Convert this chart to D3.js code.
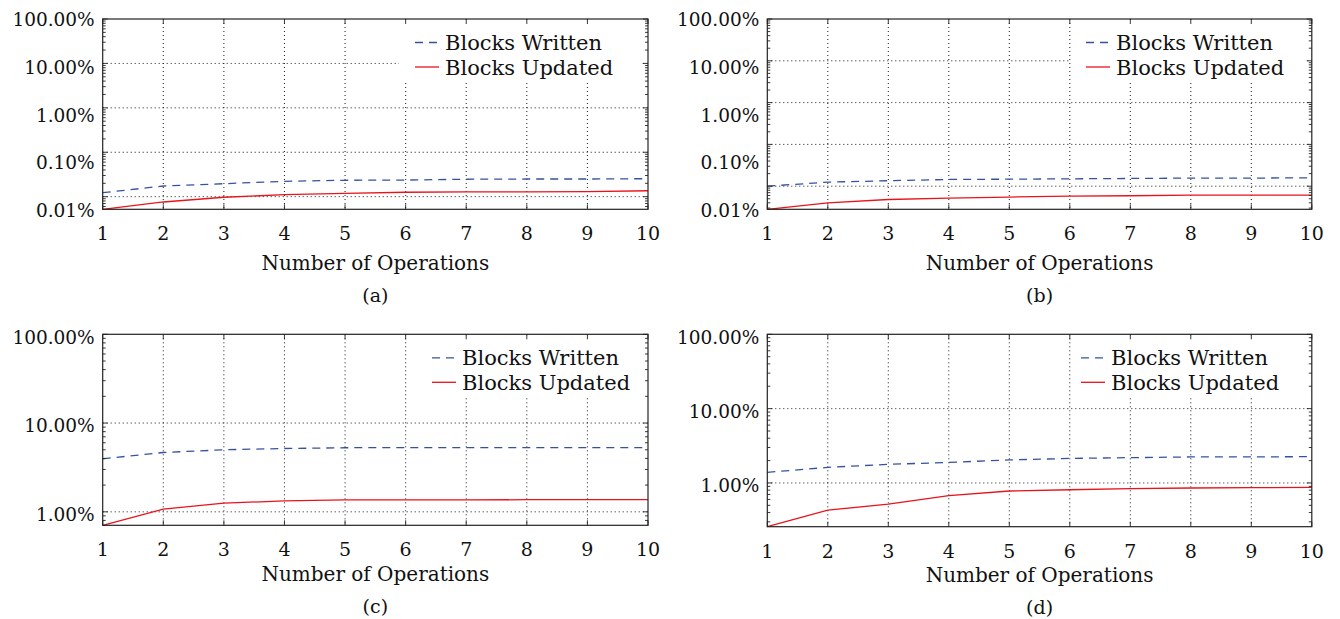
<!DOCTYPE html>
<html>
<head>
<meta charset="utf-8">
<script src="https://cdn.jsdelivr.net/npm/d3@7"></script>
<style>
  body { margin: 0; background: #fff; }
  svg text { font-family: "DejaVu Serif", serif; fill: #111; }
</style>
</head>
<body>
<svg id="chart" width="1340" height="619"></svg>
<script>
// values in percent
const ops = [1, 2, 3, 4, 5, 6, 7, 8, 9, 10];

const writtenA = [0.0123, 0.0174, 0.0196, 0.0222, 0.0234, 0.0237, 0.0247, 0.0250, 0.0250, 0.0254];
const updatedA = [0.0052, 0.0076, 0.0097, 0.0111, 0.0119, 0.0126, 0.0128, 0.0128, 0.0130, 0.0136];

const writtenB = [0.0100, 0.0125, 0.0135, 0.0145, 0.0147, 0.0150, 0.0153, 0.0156, 0.0156, 0.0159];
const updatedB = [0.0028, 0.0040, 0.0048, 0.0052, 0.0055, 0.0058, 0.0059, 0.0061, 0.0061, 0.0061];

const writtenC = [3.96, 4.66, 5.00, 5.17, 5.27, 5.30, 5.30, 5.30, 5.30, 5.30];
const updatedC = [0.705, 1.07, 1.25, 1.33, 1.36, 1.36, 1.36, 1.37, 1.37, 1.37];

const writtenD = [1.39, 1.62, 1.78, 1.89, 2.04, 2.14, 2.19, 2.24, 2.24, 2.26];
const updatedD = [0.258, 0.43, 0.52, 0.675, 0.78, 0.81, 0.84, 0.856, 0.865, 0.873];

const ticksAB = [100, 10, 1, 0.1, 0.01];
const ticksCD = [100, 10, 1];
const captions = ["(a)", "(b)", "(c)", "(d)"];
const seriesNames = ["Blocks Written", "Blocks Updated"];
const xTitle = "Number of Operations";

const blue = "#34529f", red = "#e8141c";

const panels = [
  {left: 102.7, top: 19,    w: 545.3, h: 190.3, written: writtenA, updated: updatedA, labels: ticksAB, even: true,  box: 399,  lx: 445,  tY: 53, cY: 87},
  {left: 767.3, top: 19,    w: 544.5, h: 190.3, written: writtenB, updated: updatedB, labels: ticksAB, even: true,  box: 1071, lx: 1116, tY: 53, cY: 87},
  {left: 102.7, top: 334.3, w: 545.3, h: 191,   written: writtenC, updated: updatedC, labels: ticksCD, even: false, box: 412,  lx: 462,  tY: 49, cY: 82},
  {left: 767.3, top: 334.3, w: 544.5, h: 192.4, written: writtenD, updated: updatedD, labels: ticksCD, even: false, box: 1072, lx: 1111, tY: 48, cY: 81}
];

const svg = d3.select("#chart");
const fmt = d3.format(".2f");

panels.forEach((p, i) => {
  const g = svg.append("g").attr("transform", `translate(${p.left},${p.top})`);
  const x = d3.scaleLinear().domain([1, 10]).range([0, p.w]);
  const y = d3.scaleLog().domain([d3.min(p.updated), 100]).range([p.h, 0]);
  // tick labels in (a) and (b) are spread evenly over the axis, not on the grid
  const yl = p.even
    ? d3.scaleLog().domain(d3.extent(p.labels)).range([p.h, 0])
    : y;

  const all = y.ticks();
  const major = all.filter(v => Math.abs(Math.log10(v) - Math.round(Math.log10(v))) < 1e-9);
  const minor = all.filter(v => !major.includes(v));

  // grid
  const grid = g.append("g")
    .attr("stroke", "#000")
    .attr("stroke-width", 0.9)
    .attr("stroke-dasharray", "1,3");
  grid.selectAll(".h").data(major.filter(v => v < 100)).join("line")
    .attr("x1", 0).attr("x2", p.w)
    .attr("y1", d => y(d)).attr("y2", d => y(d));
  grid.selectAll(".v").data(ops.slice(1, -1)).join("line")
    .attr("x1", d => x(d)).attr("x2", d => x(d))
    .attr("y1", 0).attr("y2", p.h);

  // legend background hides the grid
  const bx = p.box - p.left;
  g.append("rect")
    .attr("x", bx).attr("y", 2)
    .attr("width", p.w - 7 - bx).attr("height", 61)
    .attr("fill", "#fff");

  const line = d3.line().x((d, j) => x(ops[j])).y(d => y(d));
  g.append("path").datum(p.written)
    .attr("d", line).attr("fill", "none")
    .attr("stroke", blue).attr("stroke-width", 1.3)
    .attr("stroke-dasharray", "8,6");
  g.append("path").datum(p.updated)
    .attr("d", line).attr("fill", "none")
    .attr("stroke", red).attr("stroke-width", 1.3);

  // frame and ticks
  g.append("rect")
    .attr("width", p.w).attr("height", p.h)
    .attr("fill", "none").attr("stroke", "#222").attr("stroke-width", 1.2);
  const tk = g.append("g").attr("stroke", "#222").attr("stroke-width", 0.9);
  const yt = major.map(v => ({v, len: 5})).concat(minor.map(v => ({v, len: 3})));
  tk.selectAll(".yl").data(yt).join("line")
    .attr("x1", 0).attr("x2", d => d.len)
    .attr("y1", d => y(d.v)).attr("y2", d => y(d.v));
  tk.selectAll(".yr").data(yt).join("line")
    .attr("x1", p.w).attr("x2", d => p.w - d.len)
    .attr("y1", d => y(d.v)).attr("y2", d => y(d.v));
  tk.selectAll(".xb").data(ops).join("line")
    .attr("x1", d => x(d)).attr("x2", d => x(d))
    .attr("y1", p.h).attr("y2", p.h - 5);
  tk.selectAll(".xt").data(ops).join("line")
    .attr("x1", d => x(d)).attr("x2", d => x(d))
    .attr("y1", 0).attr("y2", 5);

  // tick labels
  g.selectAll(".ylab").data(p.labels).join("text")
    .attr("x", -8).attr("y", d => yl(d))
    .attr("dy", p.even ? "0.4em" : "0.5em")
    .attr("text-anchor", "end")
    .attr("font-size", 18.5)
    .text(d => fmt(d) + "%");
  g.selectAll(".xlab").data(ops).join("text")
    .attr("x", d => x(d)).attr("y", p.h + 24)
    .attr("dy", "0.36em")
    .attr("text-anchor", "middle")
    .attr("font-size", 19)
    .text(d => d);

  g.append("text")
    .attr("x", p.w / 2).attr("y", p.h + p.tY).attr("dy", "0.36em")
    .attr("text-anchor", "middle").attr("font-size", 20)
    .text(xTitle);
  g.append("text")
    .attr("x", p.w / 2).attr("y", p.h + p.cY).attr("dy", "0.32em")
    .attr("text-anchor", "middle").attr("font-size", 19)
    .text(captions[i]);

  // legend
  const lx = p.lx - p.left;
  const leg = g.selectAll(".leg").data(seriesNames).join("g")
    .attr("transform", (d, j) => `translate(${lx},${23.5 + j * 24.5})`);
  leg.append("line")
    .attr("x1", -30).attr("x2", -6).attr("y1", 0).attr("y2", 0)
    .attr("stroke", (d, j) => j ? red : blue).attr("stroke-width", 1.3)
    .attr("stroke-dasharray", (d, j) => j ? null : "8,6");
  leg.append("text")
    .attr("x", 0).attr("dy", "0.36em")
    .attr("font-size", 21)
    .text(d => d);
});
</script>
</body>
</html>
